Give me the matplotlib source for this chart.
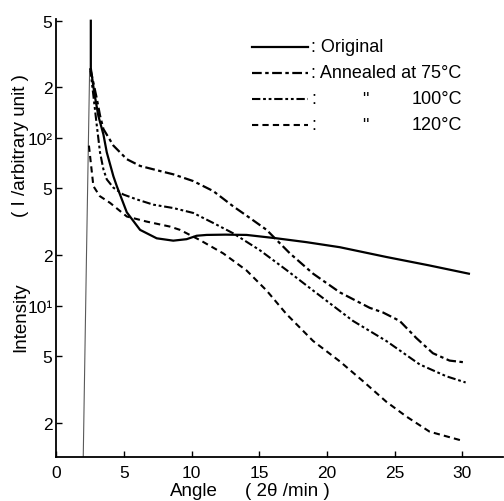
import matplotlib
matplotlib.use('Agg')
import matplotlib.pyplot as plt
from matplotlib.lines import Line2D

plt.rcParams['font.family'] = ['Liberation Sans', 'DejaVu Sans']
plt.rcParams['lines.scale_dashes'] = False

# ---- data ----
beam_x = [1.98, 2.22, 2.45]
beam_y = [1.25, 20, 250]

orig_x = [2.54, 2.54, 2.8, 3.1, 3.47, 3.72, 4.21, 4.46, 5.2, 6.18, 7.41, 8.63, 9.62,
          10.36, 11.1, 12.5, 14.05, 16.27, 18.48, 20.94, 24.38, 27.5, 30.48]
orig_y = [500, 260, 185, 135, 105, 82, 59, 51.6, 36, 28.3, 25.2, 24.4, 24.9,
          26.1, 26.4, 26.5, 26.4, 25.2, 23.9, 22.3, 19.5, 17.4, 15.5]

a75_x = [2.5, 2.98, 3.22, 3.47, 4.21, 5.2, 6.18, 7.65, 8.63, 10.11, 11.59, 13.06, 14.3,
         15.53, 17.25, 18.97, 20.94, 23.15, 24.13, 25.37, 26.6, 27.82, 29.05, 30.04]
a75_y = [260, 172, 136, 113, 90, 74.7, 68.1, 63.5, 60.7, 55.3, 48.2, 39.1, 33.3,
         28.3, 20.5, 15.5, 12.0, 9.7, 9.1, 8.1, 6.4, 5.2, 4.7, 4.6]

a100_x = [2.5, 2.98, 3.22, 3.47, 3.72, 4.21, 4.94, 5.93, 7.16, 8.63, 10.11, 11.59, 13.06,
          15.03, 17.0, 18.97, 20.94, 21.92, 24.38, 26.84, 28.81, 30.24]
a100_y = [260, 119, 82, 65, 56.6, 50.5, 46, 43, 40, 38.2, 35.7, 31.1, 27,
          21.4, 16.3, 12.3, 9.3, 8.1, 6.15, 4.46, 3.79, 3.48]

a120_x = [2.4, 2.73, 3.2, 3.96, 5.2, 6.67, 8.39, 9.13, 10.6, 12.32, 14.05, 15.53, 17.0,
          18.97, 20.94, 22.66, 24.38, 25.86, 27.58, 30.04]
a120_y = [90, 51.6, 45, 41, 34, 31.7, 29.6, 28.3, 24.6, 20.5, 16.2, 12.3, 8.9,
          6.15, 4.65, 3.54, 2.67, 2.18, 1.77, 1.56]

xticks = [0, 5, 10, 15, 20, 25, 30]
yticks = [2, 5, 10, 20, 50, 100, 200, 500]
ytick_labels = ['2', '5', '10¹', '2', '5', '10²', '2', '5']

legend_labels = [': Original', ': Annealed at 75°C', ':', ':']
legend_ditto = ['', '', '"', '"']
legend_temps = ['', '', '100°C', '120°C']

# ---- styles ----
st_orig = dict(color='black', lw=1.6, linestyle='-')
st_75 = dict(color='black', lw=1.6, linestyle=(0, (7, 2.5, 2.5, 2.5)))
st_100 = dict(color='black', lw=1.5, linestyle=(0, (6, 2, 2, 2, 2, 2)))
st_120 = dict(color='black', lw=1.5, linestyle=(0, (4.5, 3)))
styles = [st_orig, st_75, st_100, st_120]

fig = plt.figure(figsize=(5.04, 5.02), dpi=100)
ax = fig.add_axes([0.112, 0.0876, 0.886, 0.8725])
ax.set_yscale('log')
ax.set_xlim(0, 33)
ax.set_ylim(1.25, 512)

ax.plot(beam_x, beam_y, color='0.35', lw=0.8)
ax.plot(orig_x, orig_y, **st_orig)
ax.plot(a75_x, a75_y, **st_75)
ax.plot(a100_x, a100_y, **st_100)
ax.plot(a120_x, a120_y, **st_120)

for s in ['top', 'right']:
    ax.spines[s].set_visible(False)
for s in ['left', 'bottom']:
    ax.spines[s].set_linewidth(1.3)

ax.set_xticks(xticks)
ax.set_xticklabels([str(t) for t in xticks])
ax.set_yticks(yticks)
ax.set_yticklabels(ytick_labels)
ax.yaxis.set_minor_locator(matplotlib.ticker.NullLocator())
ax.tick_params(axis='both', direction='in', length=4, width=1, labelsize=12.5)
ax.tick_params(axis='x', pad=5.5)
ax.tick_params(axis='y', pad=3)

# axis titles (two parts each, spaced as in the reference)
fig.text(194 / 504, 1 - 492 / 502, 'Angle', ha='center', va='center', fontsize=13.5)
fig.text(287 / 504, 1 - 492 / 502, '( 2θ /min )', ha='center', va='center', fontsize=13.5)
fig.text(21 / 504, 1 - 317 / 502, 'Intensity', ha='center', va='center',
         rotation=90, fontsize=13.5)
fig.text(21 / 504, 1 - 146 / 502, '( I /arbitrary unit )', ha='center', va='center',
         rotation=90, fontsize=13.5)

# legend drawn manually
rows_y = [48, 74, 100, 126]
for i, yy in enumerate(rows_y):
    yf = 1 - yy / 502
    fig.add_artist(Line2D([252 / 504, 308 / 504], [yf, yf], **styles[i]))
    fig.text(311 / 504, yf, legend_labels[i], ha='left', va='center', fontsize=13)
    if legend_ditto[i]:
        fig.text(365 / 504, yf, legend_ditto[i], ha='center', va='center', fontsize=13)
        fig.text(412 / 504, yf, legend_temps[i], ha='left', va='center', fontsize=13)

fig.savefig('out.png', dpi=100)
